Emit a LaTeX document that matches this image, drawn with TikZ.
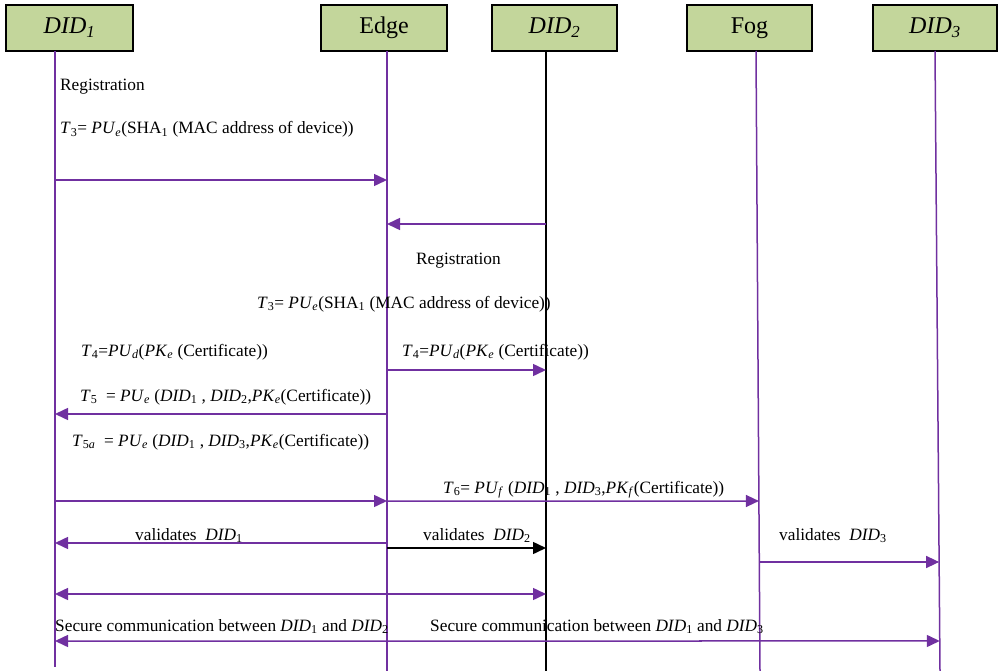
\documentclass[tikz,border=0pt]{standalone}
\usepackage{fontspec}
\setmainfont{Liberation Serif}
\usetikzlibrary{arrows.meta,calc}
\definecolor{lifepurple}{HTML}{7030A0}
\definecolor{boxgreen}{HTML}{C3D69B}
\newcommand\mv[1]{\textit{#1}}
\newcommand\sbs[1]{\textsubscript{#1}}
\tikzset{
  actor/.style={draw=black,line width=1.5pt,fill=boxgreen,minimum height=46pt,inner sep=0pt,font=\fontsize{24}{28}\selectfont},
  lifeline/.style={draw=lifepurple,line width=1.5pt},
  blackline/.style={draw=black,line width=1.6pt},
  msg/.style={draw=lifepurple,line width=1.5pt,-{Triangle[length=13pt,width=12pt]}},
  msgboth/.style={draw=lifepurple,line width=1.5pt,{Triangle[length=13pt,width=12pt]}-{Triangle[length=13pt,width=12pt]}},
  msgblack/.style={draw=black,line width=1.5pt,-{Triangle[length=13pt,width=12pt]}},
  lbl/.style={anchor=base west,inner sep=0pt,font=\fontsize{17.3}{20}\selectfont},
}
\begin{document}
\begin{tikzpicture}[x=1pt,y=-1pt]
\useasboundingbox (0,0) rectangle (998,671);
% actor boxes
\node[actor,minimum width=127pt] (d1) at (69.5,28) {\mv{DID}\textsubscript{\mv{1}}};
\node[actor,minimum width=126pt] (edge) at (384,28) {Edge};
\node[actor,minimum width=125pt] (d2) at (554.5,28) {\mv{DID}\textsubscript{\mv{2}}};
\node[actor,minimum width=125pt] (fog) at (749.5,28) {Fog};
\node[actor,minimum width=124pt] (d3) at (935,28) {\mv{DID}\textsubscript{\mv{3}}};
% lifeline ends
\coordinate (l1t) at (55,51);   \coordinate (l1b) at (55,667);
\coordinate (let) at (387,51);  \coordinate (leb) at (387,671);
\coordinate (l2t) at (546,51);  \coordinate (l2b) at (546,671);
\coordinate (lft) at (756,51);  \coordinate (lfb) at (760,671);
\coordinate (l3t) at (935,51);  \coordinate (l3b) at (940,671);
\draw[lifeline] (l1t) -- (l1b);
\draw[lifeline] (let) -- (leb);
\draw[blackline] (l2t) -- (l2b);
\draw[lifeline] (lft) -- (lfb);
\draw[lifeline] (l3t) -- (l3b);
% rows
\foreach \y in {180,224,370,414,501,543,548,594,641}{\coordinate (r\y) at (0,\y);}
\coordinate (f501) at ($(lft)!{(501-51)/620}!(lfb)$);
\coordinate (f562) at ($(lft)!{(562-51)/620}!(lfb)$);
\coordinate (t562) at ($(l3t)!{(562-51)/620}!(l3b)$);
\coordinate (t641) at ($(l3t)!{(641-51)/620}!(l3b)$);
% messages
\draw[msg] (l1t |- r180) -- (let |- r180);
\draw[msg] (l2t |- r224) -- (let |- r224);
\draw[msg] (let |- r370) -- (l2t |- r370);
\draw[msg] (let |- r414) -- (l1t |- r414);
\draw[msg] (l1t |- r501) -- (let |- r501);
\draw[msg] (let |- r501) -- (f501);
\draw[msg] (let |- r543) -- (l1t |- r543);
\draw[msgblack] (let |- r548) -- (l2t |- r548);
\draw[msg] (f562) -- (t562);
\draw[msgboth] (l1t |- r594) -- (l2t |- r594);
\draw[msgboth] (l1t |- r641) -- (t641);
% labels
\node[lbl] (reg1) at (60,91) {Registration};
\node[lbl] (t3a) at (60,134) {\mv{T}\sbs{3}= \mv{PU}\sbs{\mv{e}}(SHA\sbs{1} (MAC address of device))};
\node[lbl] (reg2) at (416,264) {Registration};
\node[lbl] (t3b) at (257,308) {\mv{T}\sbs{3}= \mv{PU}\sbs{\mv{e}}(SHA\sbs{1} (MAC address of device))};
\node[lbl] (t4a) at (81,356) {\mv{T}\sbs{4}=\mv{PU}\sbs{\mv{d}}(\mv{PK}\sbs{\mv{e}} (Certificate))};
\node[lbl] (t4b) at (402,356) {\mv{T}\sbs{4}=\mv{PU}\sbs{\mv{d}}(\mv{PK}\sbs{\mv{e}} (Certificate))};
\node[lbl] (t5) at (80,401) {\mv{T}\sbs{5} \ = \mv{PU}\sbs{\mv{e}} (\mv{DID}\sbs{1} , \mv{DID}\sbs{2},\mv{PK}\sbs{\mv{e}}(Certificate))};
\node[lbl] (t5a) at (72,446) {\mv{T}\sbs{5\mv{a}} \ = \mv{PU}\sbs{\mv{e}} (\mv{DID}\sbs{1} , \mv{DID}\sbs{3},\mv{PK}\sbs{\mv{e}}(Certificate))};
\node[lbl] (t6) at (443,493) {\mv{T}\sbs{6}= \mv{PU}\sbs{\mv{f}} (\mv{DID}\sbs{1} , \mv{DID}\sbs{3},\mv{PK}\sbs{\mv{f}}(Certificate))};
\node[lbl] (v1) at (135,540) {validates \ \mv{DID}\sbs{1}};
\node[lbl] (v2) at (423,540) {validates \ \mv{DID}\sbs{2}};
\node[lbl] (v3) at (779,540) {validates \ \mv{DID}\sbs{3}};
\node[lbl] (s1) at (55,631) {Secure communication between \mv{DID}\sbs{1} and \mv{DID}\sbs{2}};
\node[lbl] (s2) at (430,631) {Secure communication between \mv{DID}\sbs{1} and \mv{DID}\sbs{3}};
\end{tikzpicture}
\end{document}
